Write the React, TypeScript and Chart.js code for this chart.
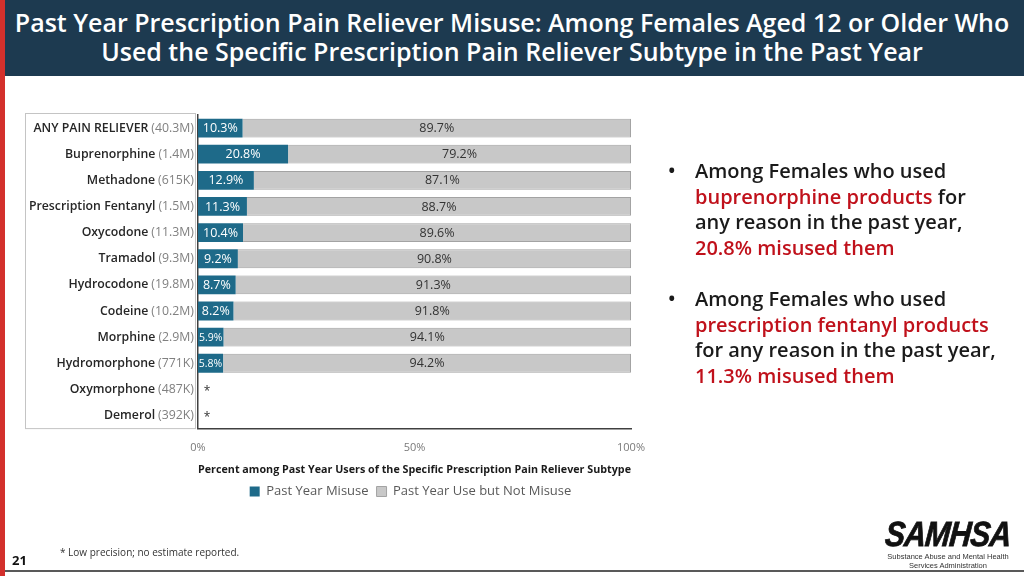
import React, { useEffect, useRef } from "react";
import { Chart, registerables } from "chart.js";

Chart.register(...registerables);

const categories = [
  "ANY PAIN RELIEVER",
  "Buprenorphine",
  "Methadone",
  "Prescription Fentanyl",
  "Oxycodone",
  "Tramadol",
  "Hydrocodone",
  "Codeine",
  "Morphine",
  "Hydromorphone",
  "Oxymorphone",
  "Demerol",
];
const userCounts = ["40.3M", "1.4M", "615K", "1.5M", "11.3M", "9.3M", "19.8M", "10.2M", "2.9M", "771K", "487K", "392K"];
const misuse: (number | null)[] = [10.3, 20.8, 12.9, 11.3, 10.4, 9.2, 8.7, 8.2, 5.9, 5.8, null, null];
const notMisuse: (number | null)[] = [89.7, 79.2, 87.1, 88.7, 89.6, 90.8, 91.3, 91.8, 94.1, 94.2, null, null];
const xTicks = [0, 50, 100];
const seriesNames = ["Past Year Misuse", "Past Year Use but Not Misuse"];

const FONT = "'Open Sans', 'Noto Sans', sans-serif";
const TEAL = "#1e6a89";
const GREY = "#c8c8c8";

const labelPlugin = {
  id: "labelPlugin",
  beforeDatasetsDraw(chart: any) {
    const { ctx, chartArea } = chart;
    ctx.save();
    ctx.strokeStyle = "#c4c4c4";
    ctx.lineWidth = 1;
    ctx.strokeRect(25.5, chartArea.top - 1.5, chartArea.left - 28, chartArea.bottom - chartArea.top + 1.5);
    ctx.restore();
  },
  afterDraw(chart: any) {
    const { ctx, chartArea } = chart;
    const yScale = chart.scales.y;
    ctx.save();
    ctx.textBaseline = "middle";
    ctx.textAlign = "right";
    const rightX = chartArea.left - 4;
    categories.forEach((name, i) => {
      const y = yScale.getPixelForValue(i);
      const val = "(" + userCounts[i] + ")";
      ctx.font = `400 12.3px ${FONT}`;
      const w = ctx.measureText(val).width;
      ctx.fillStyle = "#808080";
      ctx.fillText(val, rightX, y);
      ctx.font = `600 12.3px ${FONT}`;
      ctx.fillStyle = "#262626";
      ctx.fillText(name, rightX - w - 3, y);
    });
    ctx.restore();
  },
  afterDatasetsDraw(chart: any) {
    const { ctx, chartArea } = chart;
    ctx.save();
    ctx.textBaseline = "middle";
    ctx.textAlign = "center";
    chart.data.datasets.forEach((ds: any, d: number) => {
      const meta = chart.getDatasetMeta(d);
      meta.data.forEach((el: any, i: number) => {
        const v = ds.data[i];
        if (v == null) return;
        const { x, base, y } = el.getProps(["x", "base", "y"], true);
        const text = v.toFixed(1) + "%";
        let size = 12.5;
        ctx.font = `400 ${size}px ${FONT}`;
        const avail = Math.abs(x - base) - 1;
        while (ctx.measureText(text).width > avail && size > 8) {
          size -= 0.5;
          ctx.font = `400 ${size}px ${FONT}`;
        }
        ctx.fillStyle = d === 0 ? "#ffffff" : "#333333";
        ctx.fillText(text, (x + base) / 2, y + 0.5);
      });
    });
    const yScale = chart.scales.y;
    misuse.forEach((v, i) => {
      if (v == null) {
        ctx.font = `400 12px ${FONT}`;
        ctx.fillStyle = "#333";
        ctx.fillText("*", chartArea.left + 9, yScale.getPixelForValue(i) + 2);
      }
    });
    ctx.restore();
  },
};

function ChartCanvas() {
  const ref = useRef<HTMLCanvasElement | null>(null);
  useEffect(() => {
    if (!ref.current) return;
    const chart = new Chart(ref.current, {
      type: "bar",
      data: {
        labels: categories,
        datasets: [
          {
            label: seriesNames[0],
            data: misuse,
            backgroundColor: TEAL,
            borderWidth: 0,
            barPercentage: 0.72,
            categoryPercentage: 1,
          },
          {
            label: seriesNames[1],
            data: notMisuse,
            backgroundColor: GREY,
            borderColor: "#a3a3a3",
            borderWidth: 1,
            barPercentage: 0.72,
            categoryPercentage: 1,
          },
        ] as any,
      },
      options: {
        indexAxis: "y",
        responsive: false,
        animation: false,
        layout: { padding: { left: 190, right: 393, top: 115, bottom: 68 } },
        scales: {
          x: {
            stacked: true,
            min: 0,
            max: 100,
            afterBuildTicks: (scale: any) => {
              scale.ticks = xTicks.map((v) => ({ value: v }));
            },
            ticks: {
              callback: (v: any) => v + "%",
              font: { family: FONT, size: 11 },
              color: "#7a7a7a",
              padding: 5,
              maxRotation: 0,
            },
            grid: { display: false },
            border: { display: true, color: "#404040", width: 1.5 },
            title: {
              display: true,
              text: "Percent among Past Year Users of the Specific Prescription Pain Reliever Subtype",
              font: { family: FONT, size: 11, weight: "bold" },
              color: "#1a1a1a",
              padding: { top: 3, bottom: 1 },
            },
          },
          y: {
            stacked: true,
            grid: { display: false },
            ticks: { display: false },
            border: { display: true, color: "#404040", width: 1.5 },
          },
        },
        plugins: {
          legend: {
            position: "bottom",
            labels: {
              boxWidth: 10,
              boxHeight: 10,
              padding: 8,
              font: { family: FONT, size: 13 },
              color: "#595959",
            },
          },
          tooltip: { enabled: false },
        },
      } as any,
      plugins: [labelPlugin],
    });
    return () => chart.destroy();
  }, []);
  return (
    <canvas
      ref={ref}
      width={1024}
      height={576}
      style={{ position: "absolute", left: 0, top: 0, width: 1024, height: 576 }}
    />
  );
}

const red = "#c0111b";

export default function App() {
  const bulletLine: React.CSSProperties = { height: 25.7, lineHeight: "25.7px", whiteSpace: "nowrap" };
  return (
    <div
      style={{
        position: "fixed",
        left: 0,
        top: 0,
        width: 1024,
        height: 576,
        background: "#ffffff",
        overflow: "hidden",
        fontFamily: FONT,
      }}
    >
      <ChartCanvas />
      <div style={{ position: "absolute", left: 0, top: 0, width: 5, height: 576, background: "#d3302c" }} />
      <div
        style={{
          position: "absolute",
          left: 5,
          top: 0,
          width: 1019,
          height: 76,
          background: "#1d3a50",
          color: "#ffffff",
          fontWeight: 600,
          fontSize: 25,
          lineHeight: "29px",
          textAlign: "center",
          paddingTop: 8,
          boxSizing: "border-box",
        }}
      >
        <div style={{ whiteSpace: "nowrap", marginLeft: -5 }}>
          Past Year Prescription Pain Reliever Misuse: Among Females Aged 12 or Older Who
        </div>
        <div style={{ whiteSpace: "nowrap", marginLeft: -5 }}>
          Used the Specific Prescription Pain Reliever Subtype in the Past Year
        </div>
      </div>

      <div style={{ position: "absolute", left: 668, top: 158, fontSize: 20, fontWeight: 600, color: "#1a1a1a" }}>
        <div style={{ position: "absolute", left: 0, top: 0, lineHeight: "25.7px" }}>•</div>
        <div style={{ position: "absolute", left: 27, top: 0 }}>
          <div style={bulletLine}>Among Females who used</div>
          <div style={bulletLine}>
            <span style={{ color: red }}>buprenorphine products</span> for
          </div>
          <div style={bulletLine}>any reason in the past year,</div>
          <div style={{ ...bulletLine, color: red }}>20.8% misused them</div>
        </div>
      </div>
      <div style={{ position: "absolute", left: 668, top: 286, fontSize: 20, fontWeight: 600, color: "#1a1a1a" }}>
        <div style={{ position: "absolute", left: 0, top: 0, lineHeight: "25.7px" }}>•</div>
        <div style={{ position: "absolute", left: 27, top: 0 }}>
          <div style={bulletLine}>Among Females who used</div>
          <div style={bulletLine}>
            <span style={{ color: red }}>prescription fentanyl products</span>
          </div>
          <div style={bulletLine}>for any reason in the past year,</div>
          <div style={{ ...bulletLine, color: red }}>11.3% misused them</div>
        </div>
      </div>

      <div style={{ position: "absolute", left: 12, top: 551, fontSize: 13, fontWeight: 700, color: "#111", lineHeight: "18px" }}>
        21
      </div>
      <div style={{ position: "absolute", left: 60, top: 545, fontSize: 10, color: "#333", lineHeight: "14px" }}>
        * Low precision; no estimate reported.
      </div>
      <div style={{ position: "absolute", left: 5, top: 570, width: 1019, height: 2, background: "#595959" }} />

      <div
        style={{
          position: "absolute",
          left: 868,
          top: 515,
          width: 160,
          textAlign: "center",
          color: "#111",
        }}
      >
        <div
          style={{
            fontFamily: "'Liberation Sans', Arial, sans-serif",
            fontStyle: "italic",
            fontWeight: 700,
            fontSize: 35,
            lineHeight: "37px",
            transform: "scaleX(0.86) skewX(-6deg)",
            letterSpacing: -1,
            WebkitTextStroke: "0.8px #111",
          }}
        >
          SAMHSA
        </div>
        <div
          style={{
            fontFamily: "'Liberation Sans Narrow', 'Liberation Sans', sans-serif",
            fontSize: 7.5,
            lineHeight: "9px",
            color: "#333",
          }}
        >
          Substance Abuse and Mental Health
          <br />
          Services Administration
        </div>
      </div>
    </div>
  );
}
